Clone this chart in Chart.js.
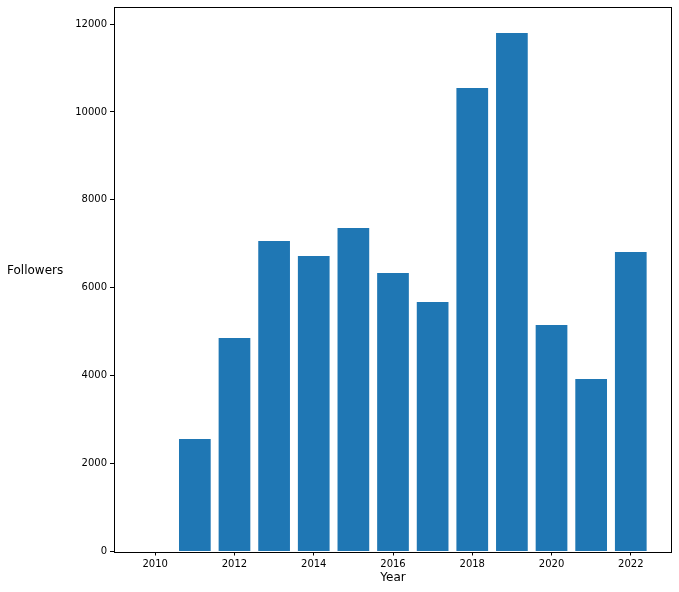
<!DOCTYPE html>
<html>
<head>
<meta charset="utf-8">
<script src="https://cdn.jsdelivr.net/npm/chart.js@4.4.0/dist/chart.umd.min.js"></script>
<style>
html,body{margin:0;padding:0;background:#fff;}
#wrap{width:679px;height:592px;position:relative;}
</style>
</head>
<body>
<div id="wrap"><canvas id="c" width="679" height="592"></canvas></div>
<script>
const years = [2010, 2011, 2012, 2013, 2014, 2015, 2016, 2017, 2018, 2019, 2020, 2021, 2022];
const followers = [0, 2560, 4858, 7065, 6724, 7361, 6337, 5677, 10546, 11797, 5154, 3925, 6815];
const yTicks = [0, 2000, 4000, 6000, 8000, 10000, 12000];
const xTicks = [2010, 2012, 2014, 2016, 2018, 2020, 2022];
const xLabel = 'Year';
const yLabel = 'Followers';

const font = 'DejaVu Sans';
const frame = {
  id: 'frame',
  afterDraw(chart) {
    const {ctx, chartArea: a} = chart;
    ctx.save();
    ctx.strokeStyle = '#000';
    ctx.lineWidth = 1;
    ctx.strokeRect(Math.round(a.left) + 0.5, Math.round(a.top) + 0.5, Math.round(a.right - a.left) - 1, Math.round(a.bottom - a.top));
    ctx.fillStyle = '#000';
    ctx.font = '12px "' + font + '"';
    ctx.textAlign = 'center';
    ctx.textBaseline = 'middle';
    ctx.fillText(xLabel, (a.left + a.right) / 2, 578);
    ctx.textAlign = 'left';
    ctx.fillText(yLabel, 7, 271);
    ctx.restore();
  }
};

new Chart(document.getElementById('c'), {
  type: 'bar',
  data: {
    datasets: [{
      data: years.map((y, i) => ({x: y, y: followers[i]})),
      backgroundColor: '#1f77b4',
      borderWidth: 0,
      inflateAmount: 0,
      barPercentage: 0.8,
      categoryPercentage: 1.0
    }]
  },
  options: {
    responsive: false,
    animation: false,
    layout: {padding: {top: 7, right: 7, left: 0, bottom: 0}},
    plugins: {legend: {display: false}, tooltip: {enabled: false}},
    scales: {
      x: {
        type: 'linear',
        offset: false,
        min: 2008.96,
        max: 2023.04,
        afterFit(s) { s.height = 40.5; s.paddingLeft = 0; s.paddingRight = 0; },
        afterBuildTicks(s) { s.ticks = xTicks.map(v => ({value: v})); },
        grid: {offset: false, drawOnChartArea: false, drawTicks: true, tickLength: 4, tickColor: '#000'},
        border: {display: false},
        ticks: {
          color: '#000', font: {family: font, size: 10}, padding: 3,
          maxRotation: 0, autoSkip: false, includeBounds: false,
          callback: v => String(v)
        }
      },
      y: {
        min: 0,
        max: 12387,
        afterFit(s) { s.width = 114; s.paddingTop = 0; s.paddingBottom = 0; },
        afterBuildTicks(s) { s.ticks = yTicks.map(v => ({value: v})); },
        grid: {offset: false, drawOnChartArea: false, drawTicks: true, tickLength: 4, tickColor: '#000'},
        border: {display: false},
        ticks: {
          color: '#000', font: {family: font, size: 10}, padding: 3,
          autoSkip: false, includeBounds: false,
          callback: v => String(v)
        }
      }
    }
  },
  plugins: [frame]
});
</script>
</body>
</html>
